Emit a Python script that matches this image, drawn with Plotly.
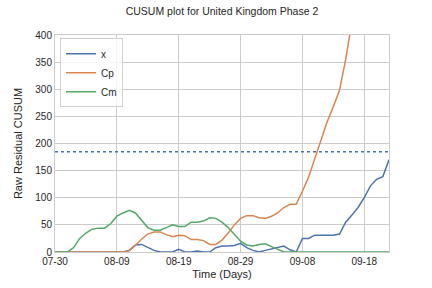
import pandas as pd
import plotly.graph_objects as go

start_date = "2020-07-30"
n_days = 55
dates = pd.date_range(start_date, periods=n_days, freq="D")

x_vals = [0, 0, 0, 0, 0, 0, 0, 0, 0, 0, 0, 0, 3, 13, 14, 8, 3, 0, 0, 0,
          5, 0, 0, 2, 0, 0, 8, 11, 11, 12, 16, 8, 3, 0, 3, 6, 8, 11, 4, 0,
          25, 25, 31, 31, 32, 31, 33, 55, 68, 82, 100, 122, 134, 139, 170]

cp_vals = [0, 0, 0, 0, 0, 0, 0, 0, 0, 0, 0, 0, 2, 12, 24, 33, 37, 37, 32, 28,
           31, 30, 23, 23, 21, 14, 14, 22, 35, 50, 62, 67, 67, 63, 62, 66, 72, 82, 88, 88,
           112, 138, 172, 208, 240, 268, 298, 355, 420, 490, 560, 630, 700, 770, 840]

cm_vals = [0, 0, 0, 8, 25, 35, 42, 44, 44, 52, 66, 72, 77, 72, 58, 45, 40, 40, 45, 50,
           47, 47, 55, 55, 57, 63, 62, 55, 45, 32, 20, 13, 11, 14, 15, 10, 5, 0, 0, 0,
           0, 0, 0, 0, 0, 0, 0, 0, 0, 0, 0, 0, 0, 0, 0]

threshold = 185
y_ticks = [0, 50, 100, 150, 200, 250, 300, 350, 400]

blue = "#4C72B0"
orange = "#DD8452"
green = "#55A868"

fig = go.Figure()
fig.add_trace(go.Scatter(x=dates, y=x_vals, mode="lines", name="x",
                         line=dict(color=blue, width=1.5)))
fig.add_trace(go.Scatter(x=dates, y=cp_vals, mode="lines", name="Cp",
                         line=dict(color=orange, width=1.5)))
fig.add_trace(go.Scatter(x=dates, y=cm_vals, mode="lines", name="Cm",
                         line=dict(color=green, width=1.5)))
fig.add_shape(type="line", xref="paper", x0=0, x1=1, yref="y", y0=threshold, y1=threshold,
              line=dict(color=blue, width=1.5, dash="dot"))

font_family = "Liberation Sans, Arial, sans-serif"
fig.update_layout(
    width=432, height=288,
    margin=dict(l=55, r=43, t=35, b=36),
    paper_bgcolor="white", plot_bgcolor="white",
    font=dict(family=font_family, size=10, color="#262626"),
    title=dict(text="CUSUM plot for United Kingdom Phase 2", x=0.5, xref="paper",
               y=0.962, yanchor="middle", font=dict(size=10.5, color="#262626")),
    showlegend=True,
    legend=dict(x=0.015, y=0.985, xanchor="left", yanchor="top",
                bgcolor="rgba(255,255,255,0.8)", bordercolor="#d0d0d0", borderwidth=1,
                font=dict(size=10), tracegroupgap=0, itemwidth=30),
)
fig.update_xaxes(
    range=[dates[0], dates[-1]], tickformat="%m-%d", dtick=10 * 86400000,
    tick0=start_date, showgrid=True, gridcolor="#cccccc", gridwidth=1,
    showline=True, linecolor="#cccccc", mirror=True, ticks="", zeroline=False,
    automargin=False,
    title=dict(text="Time (Days)", font=dict(size=11), standoff=4),
    tickfont=dict(size=10),
)
fig.update_yaxes(
    range=[0, 400], tickvals=y_ticks, showgrid=True, gridcolor="#cccccc", gridwidth=1,
    showline=True, linecolor="#cccccc", mirror=True, ticks="", zeroline=False,
    automargin=False,
    title=dict(text="Raw Residual CUSUM", font=dict(size=11), standoff=10),
    tickfont=dict(size=10),
)
fig.write_html(
    "out.html",
    config={"displayModeBar": False},
    post_script="document.body.style.margin='0';document.body.style.overflow='hidden';",
)
